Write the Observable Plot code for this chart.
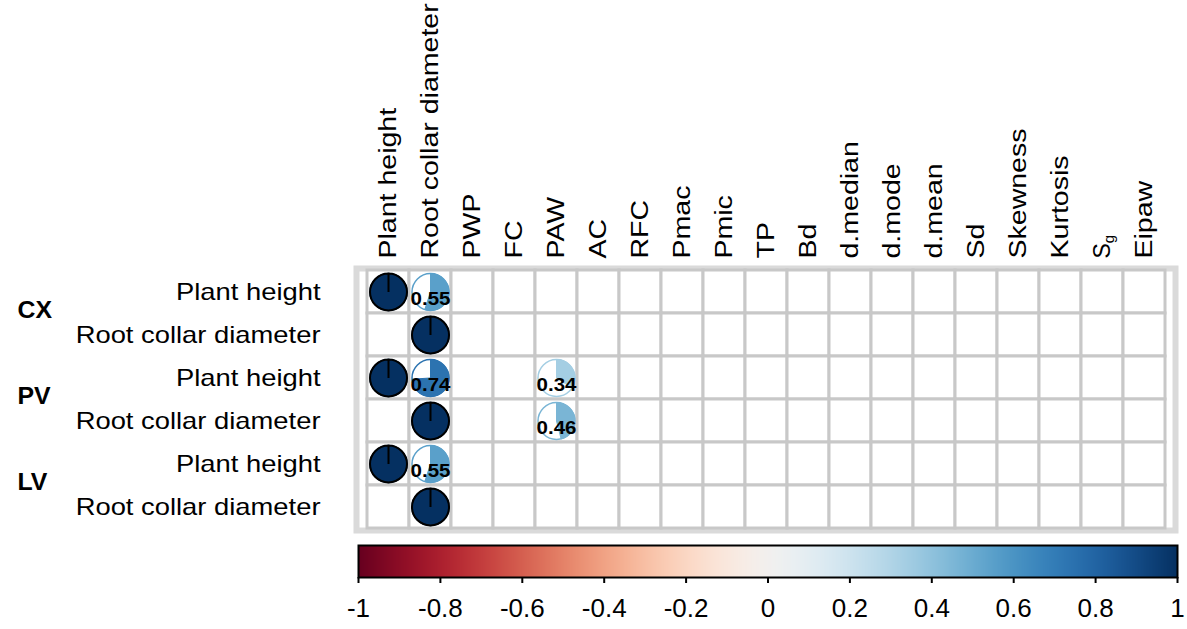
<!DOCTYPE html>
<html><head><meta charset="utf-8">
<script src="https://cdn.jsdelivr.net/npm/d3@7"></script>
<script src="https://cdn.jsdelivr.net/npm/@observablehq/plot@0.6"></script>
<style>
body{margin:0;background:#fff;}
#chart svg{display:block}
</style></head><body><div id="chart"></div>
<script>
// ---- data ----
const columns = ["Plant height","Root collar diameter","PWP","FC","PAW","AC","RFC","Pmac","Pmic","TP","Bd","d.median","d.mode","d.mean","Sd","Skewness","Kurtosis","Sg","Eipaw"];
const groups = ["CX","PV","LV"];
const traits = ["Plant height","Root collar diameter"];
const corrGroup = ["CX","CX","CX","PV","PV","PV","PV","PV","LV","LV","LV"];
const corrTrait = ["Plant height","Plant height","Root collar diameter","Plant height","Plant height","Plant height","Root collar diameter","Root collar diameter","Plant height","Plant height","Root collar diameter"];
const corrVar = ["Plant height","Root collar diameter","Root collar diameter","Plant height","Root collar diameter","PAW","Root collar diameter","PAW","Plant height","Root collar diameter","Root collar diameter"];
const corrValue = [1,0.55,1,1,0.74,0.34,1,0.46,1,0.55,1];
const colorTicks = [-1,-0.8,-0.6,-0.4,-0.2,0,0.2,0.4,0.6,0.8,1];

// ---- derived tables ----
const rowKeys = groups.flatMap(g => traits.map(t => g + "|" + t));
const cells = d3.cross(rowKeys, columns, (row, col) => ({row, col}));
const corr = corrValue.map((v, i) => ({row: corrGroup[i] + "|" + corrTrait[i], col: corrVar[i], v}));
const groupLabels = groups.map(g => ({row: g + "|" + traits[0], g}));
const color = v => d3.interpolateRdBu((v + 1) / 2);

function sector(v) {
  return {draw(ctx, size) {
    const r = Math.sqrt(size / Math.PI);
    const a0 = -Math.PI / 2, a1 = a0 + 2 * Math.PI * v;
    ctx.moveTo(0, 0); ctx.lineTo(0, -r); ctx.arc(0, 0, r, a0, a1); ctx.closePath();
  }};
}

const R = 18.5;
const main = Plot.plot({
  width: 1187, height: 536,
  marginLeft: 358, marginRight: 14, marginTop: 270, marginBottom: 8,
  style: {fontFamily: "'Liberation Sans', Arial, sans-serif", background: "white", color: "black"},
  x: {domain: columns, padding: 0},
  y: {domain: rowKeys, padding: 0},
  marks: [
    Plot.frame({stroke: "#dadada", strokeWidth: 6, inset: -2}),
    Plot.cell(cells, {x: "col", y: "row", fill: "white", stroke: "#c8c8c8", strokeWidth: 3}),
    Plot.axisX({anchor: "top", tickSize: 0, tickPadding: 12, tickRotate: -90, fontSize: 23, label: null}),
    Plot.axisY({anchor: "left", tickSize: 0, tickPadding: 38, fontSize: 24, label: null, tickFormat: d => d.split("|")[1]}),
    Plot.text(groupLabels, {y: "row", text: "g", frameAnchor: "left", dx: -341, dy: 19, textAnchor: "start", fontWeight: "bold", fontSize: 23}),
    ...corr.map(d => Plot.dot([d], {x: "col", y: "row", r: R, symbol: "circle", fill: "white", stroke: color(d.v), strokeWidth: 1.5})),
    ...corr.map(d => Plot.dot([d], {x: "col", y: "row", r: R, symbol: sector(d.v), fill: color(d.v), stroke: d.v === 1 ? "black" : color(d.v), strokeWidth: d.v === 1 ? 2 : 1})),
    Plot.text(corr.filter(d => d.v < 1), {x: "col", y: "row", text: d => d.v.toFixed(2), dy: 7, fontWeight: "bold", fontSize: 19, fill: "black"})
  ]
});

const bar = Plot.plot({
  width: 1187, height: 93,
  marginLeft: 358, marginRight: 10, marginTop: 9, marginBottom: 52,
  style: {fontFamily: "'Liberation Sans', Arial, sans-serif", background: "white", color: "black"},
  x: {domain: [-1, 1]},
  y: {domain: [0, 1], axis: null},
  color: {type: "linear", scheme: "RdBu", domain: [-1, 1]},
  marks: [
    Plot.raster({x1: -1, x2: 1, y1: 0, y2: 1, fill: (x, y) => x, imageRendering: "auto"}),
    Plot.frame({stroke: "black", strokeWidth: 2}),
    Plot.axisX({ticks: colorTicks, tickSize: 6, tickPadding: 15, fontSize: 26, strokeWidth: 2, label: null, tickFormat: d => String(d)})
  ]
});

const chart = document.getElementById("chart");
chart.appendChild(main);
chart.appendChild(bar);

function stretch(sel, k) {
  sel.each(function() {
    const L = this.getComputedTextLength();
    this.setAttribute("textLength", L * k);
    this.setAttribute("lengthAdjust", "spacingAndGlyphs");
  });
}
const svg = d3.select(main);
stretch(svg.selectAll('g[aria-label="x-axis tick label"] text'), 1.24);
stretch(svg.selectAll('g[aria-label="y-axis tick label"] text'), 1.14);
stretch(svg.selectAll('g[aria-label="text"] text'), 1.08);
svg.selectAll('g[aria-label="x-axis tick label"] text').filter(function() { return this.textContent === "Sg"; })
  .each(function() {
    const t = d3.select(this);
    t.attr("textLength", null).attr("lengthAdjust", null).text("S");
    t.append("tspan").attr("dy", "0.3em").attr("font-size", "15").text("g");
  });
</script></body></html>
